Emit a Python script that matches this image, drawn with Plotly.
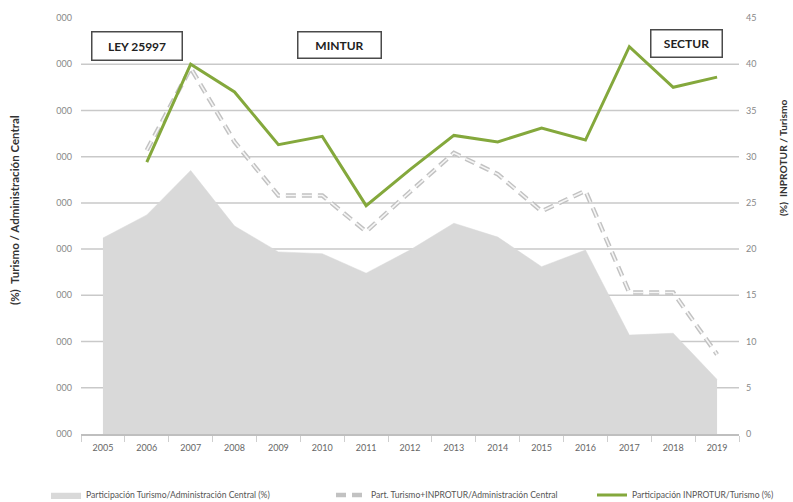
import plotly.graph_objects as go

# Years on the category axis
years = [str(y) for y in range(2005, 2020)]

# Participación Turismo / Administración Central (%) - shaded area
part_turismo_admin = [21.2, 23.7, 28.5, 22.5, 19.7, 19.5, 17.4, 19.9, 22.8, 21.3, 18.1, 19.9, 10.7, 10.9, 5.9]

# Part. Turismo+INPROTUR / Administración Central - dashed line
part_turismo_inprotur = [None, 30.7, 39.6, 31.6, 25.8, 25.8, 21.9, 26.2, 30.4, 28.1, 24.1, 26.3, 15.3, 15.3, 8.6]

# Participación INPROTUR / Turismo (%) - green line
part_inprotur_turismo = [None, 29.4, 40.0, 37.0, 31.3, 32.2, 24.7, 28.6, 32.3, 31.6, 33.1, 31.8, 41.9, 37.5, 38.6]

# Axis ticks
right_ticks = [0, 5, 10, 15, 20, 25, 30, 35, 40, 45]
left_ticktext = ["000"] * len(right_ticks)
grid_levels = [5, 10, 15, 20, 25, 30, 35, 40]

# Period labels
periods = ["LEY 25997", "MINTUR", "SECTUR"]

W, H = 793, 502
L, R, T, B = 81, 54, 18, 68
pw, ph = W - L - R, H - T - B


def px(x):
    return (x - L) / pw


def py(y):
    return (H - B - y) / ph


FONT = "Lato, 'Open Sans', sans-serif"
GREEN = "#84a83c"
AREA = "#d9d9d9"
GRID = "#c9c9c9"

fig = go.Figure()

fig.add_trace(go.Scatter(
    x=years, y=part_turismo_admin, mode="lines", fill="tozeroy",
    fillcolor=AREA, line=dict(color=AREA, width=0.5),
    name="Participación Turismo/Administración Central (%)",
    yaxis="y", hoverinfo="skip", legend="legend",
))

# Outlined dashed line: grey dashes with a pale core
fig.add_trace(go.Scatter(
    x=years, y=part_turismo_inprotur, mode="lines",
    line=dict(color="#c2c2c2", width=4.5, dash="10px,6px"),
    name="Part. Turismo+INPROTUR/Administración Central",
    yaxis="y", hoverinfo="skip", legend="legend2",
))
fig.add_trace(go.Scatter(
    x=years, y=part_turismo_inprotur, mode="lines",
    line=dict(color="#f6f6f6", width=1.6, dash="10px,6px"),
    showlegend=False, yaxis="y", hoverinfo="skip",
))

fig.add_trace(go.Scatter(
    x=years, y=part_inprotur_turismo, mode="lines",
    line=dict(color=GREEN, width=3),
    name="Participación INPROTUR/Turismo (%)",
    yaxis="y2", hoverinfo="skip", legend="legend3",
))

shapes = [
    dict(type="line", xref="paper", yref="y", x0=0, x1=1, y0=g, y1=g,
         line=dict(color=GRID, width=1.5), layer="below")
    for g in grid_levels
]

box_pos = [(136.5, 45.5, 93, 31), (339, 44.5, 86, 29), (686, 43, 74, 30)]
annotations = []
for label, (cx, cy, bw, bh) in zip(periods, box_pos):
    annotations.append(dict(
        text=f"<b>{label}</b>", x=px(cx), y=py(cy), xref="paper", yref="paper",
        xanchor="center", yanchor="middle",
        showarrow=False, width=bw - 4, height=bh - 4, align="center", valign="middle",
        bgcolor="white", bordercolor="#4a4a4a", borderwidth=1.5, borderpad=0,
        font=dict(family=FONT, size=12, color="#222"),
    ))

annotations.append(dict(
    text="<b>(%)  Turismo / Administración Central</b>", x=px(14), y=py(210),
    xref="paper", yref="paper", xanchor="center", yanchor="middle",
    showarrow=False, textangle=-90,
    font=dict(family=FONT, size=11.5, color="#333"),
))
annotations.append(dict(
    text="<b>(%)  INPROTUR / Turismo</b>", x=px(783), y=py(158),
    xref="paper", yref="paper", xanchor="center", yanchor="middle",
    showarrow=False, textangle=-90,
    font=dict(family=FONT, size=10.2, color="#333"),
))


def legend_at(x_px):
    return dict(
        orientation="h", x=x_px / W, y=(H - 495) / H, xanchor="left", yanchor="middle",
        xref="container", yref="container",
        font=dict(family=FONT, size=8.6, color="#555"),
        itemwidth=30, bgcolor="rgba(0,0,0,0)",
    )


fig.update_layout(
    width=W, height=H,
    margin=dict(l=L, r=R, t=T, b=B, pad=0, autoexpand=False),
    paper_bgcolor="white", plot_bgcolor="white",
    font=dict(family=FONT, color="#666"),
    xaxis=dict(
        type="category", range=[-0.5, len(years) - 0.5],
        showgrid=False, showline=True, linecolor="#bfbfbf", linewidth=1.5,
        ticks="outside", tickson="boundaries", ticklen=6, tickcolor="#cfcfcf",
        tickfont=dict(size=9, color="#666"), zeroline=False, ticklabelstandoff=4,
    ),
    yaxis=dict(
        range=[0, 45], tickvals=right_ticks, ticktext=left_ticktext,
        showgrid=False, zeroline=False, showline=False, ticks="",
        tickfont=dict(size=9, color="#888"), ticklabelstandoff=8,
    ),
    yaxis2=dict(
        range=[0, 45], tickvals=right_ticks, overlaying="y", side="right",
        showgrid=False, zeroline=False, showline=False, ticks="",
        tickfont=dict(size=9, color="#888"), ticklabelstandoff=6,
    ),
    shapes=shapes,
    annotations=annotations,
    showlegend=True,
    legend=legend_at(46),
    legend2=legend_at(331),
    legend3=legend_at(592),
)

fig.write_html("out.html")
